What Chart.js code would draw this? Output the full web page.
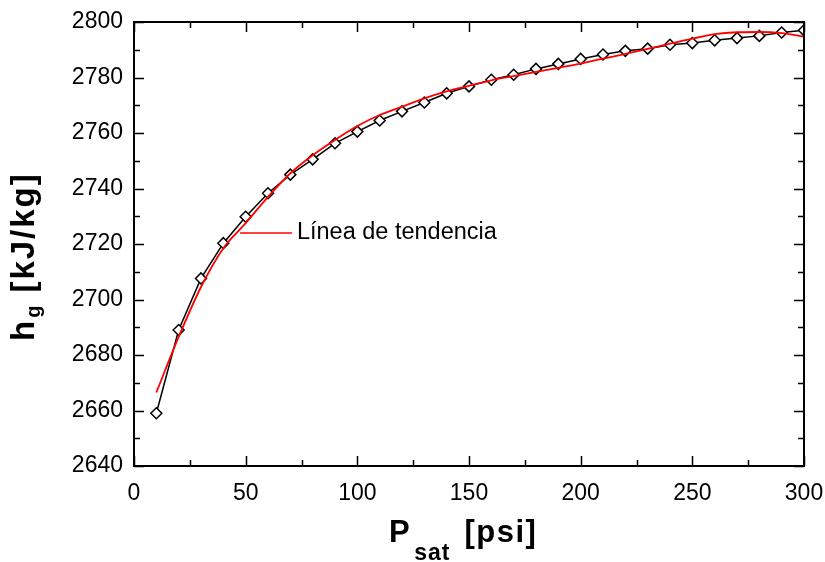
<!DOCTYPE html>
<html><head><meta charset="utf-8">
<script src="https://cdn.jsdelivr.net/npm/chart.js@4"></script>
<style>
html,body{margin:0;padding:0;background:#fff;}
#wrap{position:relative;width:825px;height:562px;overflow:hidden;}
canvas{position:absolute;left:0;top:0;}
.t{position:absolute;left:0;top:0;font-family:"Liberation Sans",Arial,sans-serif;font-weight:bold;color:#000;white-space:nowrap;transform-origin:0 0;}
.t .sub{display:inline-block;position:relative;}
#ytitle{font-size:33px;line-height:33px;letter-spacing:2px;transform:translate(6px,341px) rotate(-90deg);}
#ytitle .sub{font-size:20px;line-height:20px;top:6px;margin-left:1px;letter-spacing:1px;}
#xtitle{font-size:31px;line-height:31px;letter-spacing:1.5px;transform:translate(389px,516px);}
#xtitle .sub{font-size:23px;line-height:23px;top:18px;letter-spacing:1px;margin-left:3px;}
</style></head>
<body><div id="wrap"><canvas id="c" width="825" height="562"></canvas>
<div class="t" id="ytitle">h<span class="sub">g</span><span style="margin-left:12px">[kJ/kg]</span></div>
<div class="t" id="xtitle">P<span class="sub">sat</span><span style="margin-left:14px">[psi]</span></div>
</div>
<script>
// ---- data ----
const pressure = [10,20,30,40,50,60,70,80,90,100,110,120,130,140,150,160,170,180,190,200,210,220,230,240,250,260,270,280,290,300];
const hgData = [2659.0,2689.0,2707.6,2720.3,2729.8,2738.3,2745.0,2750.5,2756.3,2760.5,2764.5,2767.8,2771.0,2774.3,2776.8,2779.2,2781.0,2783.1,2784.9,2786.7,2788.3,2789.6,2790.4,2791.8,2792.4,2793.4,2794.2,2795.0,2796.2,2797.0];
const trendValues = [2666.5,2686.5,2704.5,2718.5,2727.5,2737.0,2745.5,2752.0,2757.5,2762.5,2766.5,2769.5,2772.5,2775.0,2777.0,2779.0,2780.5,2782.0,2783.5,2785.0,2786.8,2788.5,2790.3,2792.2,2794.0,2795.6,2796.3,2796.4,2796.0,2794.7];
const xTickLabels = [0,50,100,150,200,250,300];
const yTickLabels = [2640,2660,2680,2700,2720,2740,2760,2780,2800];
const legendText = "Línea de tendencia";
const legendAnchor = {x0:47.5, x1:70.7, y:2724.0};

const blackPts = pressure.map((p,i)=>({x:p,y:hgData[i]}));
const redPts = pressure.map((p,i)=>({x:p,y:trendValues[i]}));

const FONT = '"Liberation Sans", Arial, sans-serif';

const frame = {
  id:'frame',
  afterDatasetsDraw(chart){
    const {ctx, chartArea:a, scales:{x,y}} = chart;
    ctx.save();
    ctx.strokeStyle='#000'; ctx.lineWidth=1.5;
    ctx.beginPath();
    for(let v=0; v<=300; v+=25){
      const px = Math.round(x.getPixelForValue(v))+0.5;
      const len = (v%50===0)?10:6;
      ctx.moveTo(px,a.bottom); ctx.lineTo(px,a.bottom-len);
      ctx.moveTo(px,a.top); ctx.lineTo(px,a.top+len);
    }
    for(let v=2640; v<=2800; v+=10){
      const py = Math.round(y.getPixelForValue(v))+0.5;
      const len = (v%20===0)?10:6;
      ctx.moveTo(a.left,py); ctx.lineTo(a.left+len,py);
      ctx.moveTo(a.right,py); ctx.lineTo(a.right-len,py);
    }
    ctx.stroke();
    ctx.lineWidth=2;
    ctx.strokeRect(a.left,a.top,a.right-a.left,a.bottom-a.top);
    const ly = y.getPixelForValue(legendAnchor.y);
    const lx0 = x.getPixelForValue(legendAnchor.x0), lx1 = x.getPixelForValue(legendAnchor.x1);
    ctx.strokeStyle='#ff0000'; ctx.lineWidth=1.5;
    ctx.beginPath(); ctx.moveTo(lx0,ly); ctx.lineTo(lx1,ly); ctx.stroke();
    ctx.fillStyle='#000'; ctx.font='23.5px '+FONT; ctx.textBaseline='alphabetic'; ctx.textAlign='left';
    ctx.fillText(legendText, lx1+5, ly+6);
    ctx.restore();
  }
};

new Chart(document.getElementById('c'),{
  type:'line',
  data:{datasets:[
    {label:'trend', data:redPts, borderColor:'#ff0000', borderWidth:1.8, pointRadius:0, cubicInterpolationMode:'monotone', fill:false},
    {label:'hg', data:blackPts, borderColor:'#000', borderWidth:1.5, pointStyle:'rectRot', pointRadius:5.5, pointBackgroundColor:'#fff', pointBorderColor:'#000', pointBorderWidth:1.5, tension:0, fill:false, clip:1}
  ]},
  options:{
    responsive:false, animation:false,
    layout:{padding:{left:0,top:22,right:21,bottom:0}},
    plugins:{legend:{display:false}, tooltip:{enabled:false}},
    scales:{
      x:{type:'linear', min:0, max:300,
        afterBuildTicks(s){ s.ticks = xTickLabels.map(v=>({value:v})); },
        afterFit(s){ s.height = 96; s.paddingLeft = 0; s.paddingRight = 0; },
        grid:{display:false, drawTicks:false}, border:{display:false},
        ticks:{color:'#000', font:{family:FONT,size:23}, padding:14, maxRotation:0, callback:v=>String(v)}},
      y:{type:'linear', min:2640, max:2800,
        afterBuildTicks(s){ s.ticks = yTickLabels.map(v=>({value:v})); },
        afterFit(s){ s.width = 134; s.paddingTop = 0; s.paddingBottom = 0; },
        grid:{display:false, drawTicks:false}, border:{display:false},
        ticks:{color:'#000', font:{family:FONT,size:23}, padding:11, callback:v=>String(v)}}
    }
  },
  plugins:[frame]
});
</script></body></html>
